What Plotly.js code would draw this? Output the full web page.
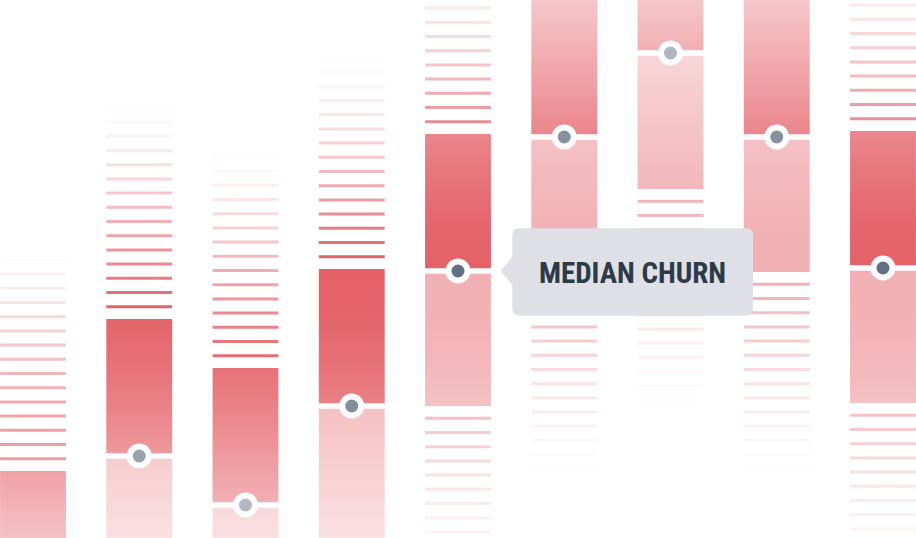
<!DOCTYPE html>
<html>
<head>
<meta charset="utf-8">
<script src="https://cdn.plot.ly/plotly-3.0.1.min.js"></script>
<style>
html, body { margin: 0; padding: 0; background: #fff; }
#plot { width: 916px; height: 538px; }
</style>
</head>
<body>
<div id="plot"></div>
<script>
// churn spread per cohort (%)
var cohorts    = ['c1', 'c2', 'c3', 'c4', 'c5', 'c6', 'c7', 'c8', 'c9'];
var median     = [-7.0, 8.2, 3.3, 13.2, 26.7, 40.1, 48.5, 40.1, 27.0];
var q3         = [6.7, 21.9, 17.0, 26.9, 40.4, 53.8, 62.2, 53.8, 40.7];
var q1         = [-20.6, -5.4, -10.3, -0.3, 13.2, 26.6, 34.9, 26.6, 13.5];
var upperFence = [27.8, 43.0, 38.1, 48.0, 61.5, 74.9, 83.3, 74.9, 61.8];
var lowerFence = [-41.7, -26.5, -31.4, -21.4, -7.9, 5.5, 13.8, 5.5, -7.6];
var highlight  = 4; // cohort carrying the callout

var BOX_W = 0.62, GAP = 0.28;
var STRIPE_STEP = 1.42, STRIPE_OFF = 1.23, STRIPE_H = 0.3;
var RED = [228, 97, 104], DOT = [99, 112, 131];

// everything fades away from the middle band of the chart
function fade(v) { var d = (v - 26.3) / 27.2; return Math.exp(-d * d); }
function rgba(c, a) { return 'rgba(' + c[0] + ',' + c[1] + ',' + c[2] + ',' + a.toFixed(3) + ')'; }

function gradientBox(i, lo, hi, k) {
    var scale = [];
    for (var s = 0; s <= 10; ++s) {
        var t = s / 10;
        scale.push([t, rgba(RED, k * fade(lo + t * (hi - lo)))]);
    }
    var x0 = i - BOX_W / 2, x1 = i + BOX_W / 2;
    return {
        type: 'scatter', mode: 'none',
        x: [x0, x1, x1, x0, x0], y: [lo, lo, hi, hi, lo],
        fill: 'toself', fillcolor: rgba(RED, k * fade((lo + hi) / 2)),
        fillgradient: {type: 'vertical', start: lo, stop: hi, colorscale: scale},
        hoverinfo: 'skip'
    };
}

var data = [];

// whisker stripes, one bar each; lower ones are as pale as the lower box
var sx = [], sb = [], sy = [], sc = [];
for (var i = 0; i < cohorts.length; ++i) {
    [[q3[i], upperFence[i], 1, 1], [q1[i], lowerFence[i], -1, 0.5]].forEach(function(w) {
        var k = 0;
        for (var c = w[0] + w[2] * STRIPE_OFF; w[2] * (w[1] - c) > -0.05; c += w[2] * STRIPE_STEP, ++k) {
            sx.push(i); sb.push(c - STRIPE_H / 2); sy.push(STRIPE_H);
            sc.push(rgba(RED, w[3] * fade(c) * Math.pow(Math.max(0, 1 - k / 15), 1.3)));
        }
    });
}
data.push({
    type: 'bar', x: sx, y: sy, base: sb, width: BOX_W,
    marker: {color: sc, line: {width: 0}}, hoverinfo: 'skip'
});

// boxes: upper half strong, lower half paler
for (var i = 0; i < cohorts.length; ++i) {
    data.push(gradientBox(i, median[i] + GAP, q3[i], 1));
    data.push(gradientBox(i, q1[i], median[i] - GAP, 0.5));
}

var idx = cohorts.map(function(_, i) { return i; });
data.push({
    type: 'scatter', mode: 'markers', x: idx, y: median,
    marker: {size: 25, color: '#ffffff', line: {width: 0}}, hoverinfo: 'skip'
});
data.push({
    type: 'scatter', mode: 'markers', x: idx, y: median,
    marker: {size: 13, color: median.map(function(m) { return rgba(DOT, fade(m)); }), line: {width: 0}},
    hoverinfo: 'skip'
});

var layout = {
    width: 916, height: 538,
    margin: {l: 0, r: 0, t: 0, b: 0},
    paper_bgcolor: '#ffffff', plot_bgcolor: '#ffffff',
    showlegend: false, hovermode: false, barmode: 'overlay',
    xaxis: {range: [-0.3106, 8.3106], visible: false, fixedrange: true},
    yaxis: {range: [0, 53.8], visible: false, fixedrange: true},
    shapes: [{
        type: 'path', layer: 'above',
        xref: 'x', yref: 'y', xsizemode: 'pixel', ysizemode: 'pixel',
        xanchor: highlight, yanchor: median[highlight],
        path: 'M 42.7,0 L 54.3,14 L 54.3,35.7 Q 54.3,42.7 61.3,42.7 L 288,42.7 Q 295,42.7 295,35.7 ' +
              'L 295,-37.7 Q 295,-44.7 288,-44.7 L 61.3,-44.7 Q 54.3,-44.7 54.3,-37.7 L 54.3,-14 Z',
        fillcolor: '#dfe0e5', line: {width: 0}
    }],
    annotations: [{
        x: highlight, y: median[highlight], xref: 'x', yref: 'y',
        xshift: 174.5, yshift: -1.5, showarrow: false,
        xanchor: 'center', yanchor: 'middle',
        text: 'MEDIAN CHURN',
        font: {family: 'Roboto Condensed, Liberation Sans Narrow, Roboto, sans-serif', size: 29, color: '#2d3a48', weight: 700}
    }]
};

Plotly.newPlot(document.getElementById('plot'), data, layout, {displayModeBar: false, staticPlot: true});
</script>
</body>
</html>
